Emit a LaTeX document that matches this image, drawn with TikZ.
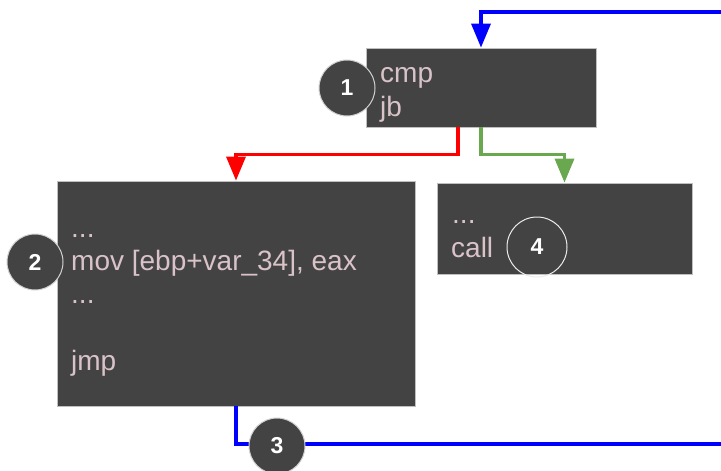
\documentclass[tikz,border=0pt]{standalone}
\usepackage{fontspec}
\setmainfont{Liberation Sans}
\usetikzlibrary{arrows.meta}
\definecolor{boxfill}{HTML}{434343}
\definecolor{codetext}{HTML}{D9C3C8}
\definecolor{edgeblue}{HTML}{0000FF}
\definecolor{edgered}{HTML}{FF0000}
\definecolor{edgegreen}{HTML}{6AA84F}
\begin{document}
\begin{tikzpicture}[x=1pt,y=-1pt,
  blockbox/.style={draw=gray!50, line width=0.8pt, fill=boxfill, inner sep=0pt},
  code/.style={text=codetext, font=\fontsize{28}{33}\selectfont, anchor=base west, inner sep=0pt},
  badge/.style={circle, fill=boxfill, draw=gray!35, line width=1pt, minimum size=56pt, inner sep=0pt, text=white, font=\fontsize{23}{23}\selectfont\bfseries},
  flow/.style={line width=3.5pt, -{Triangle[width=19pt,length=24pt]}}]
\useasboundingbox (0,0) rectangle (721,471);
% blocks
\node[blockbox, minimum width=230pt, minimum height=79pt] (b1) at (481,87.5) {};
\node[blockbox, minimum width=358pt, minimum height=225pt] (b2) at (236,293.5) {};
\node[blockbox, minimum width=255pt, minimum height=91pt] (b4) at (564.5,228.5) {};
% code text
\node[code] (t1a) at (380,82) {cmp};
\node[code] (t1b) at (380,116) {jb};
\node[code] (t2a) at (71,237) {...};
\node[code] (t2b) at (71,270) {mov [ebp+var\_34], eax};
\node[code] (t2c) at (71,303) {...};
\node[code] (t2d) at (71,370) {jmp};
\node[code] (t4a) at (452,223) {...};
\node[code] (t4b) at (451,257) {call};
% connectors
\coordinate (topright) at (721,12);
\coordinate (bottomright) at (721,444);
\draw[flow, edgeblue] (topright) -| (b1.north);
\draw[flow, edgered] ([xshift=-23pt]b1.south) -- ++(0,27) -| (b2.north);
\draw[flow, edgegreen] (b1.south) -- ++(0,27) -| (b4.north);
\draw[edgeblue, line width=3.5pt] (b2.south) |- (bottomright);
% badges
\node[badge] (c1) at (347,88) {1};
\node[badge] (c2) at (35,262) {2};
\node[badge] (c3) at (277,446) {3};
\node[badge, fill=none, draw=white!85!gray, minimum size=60pt] (c4) at (537,247) {4};
\end{tikzpicture}
\end{document}
